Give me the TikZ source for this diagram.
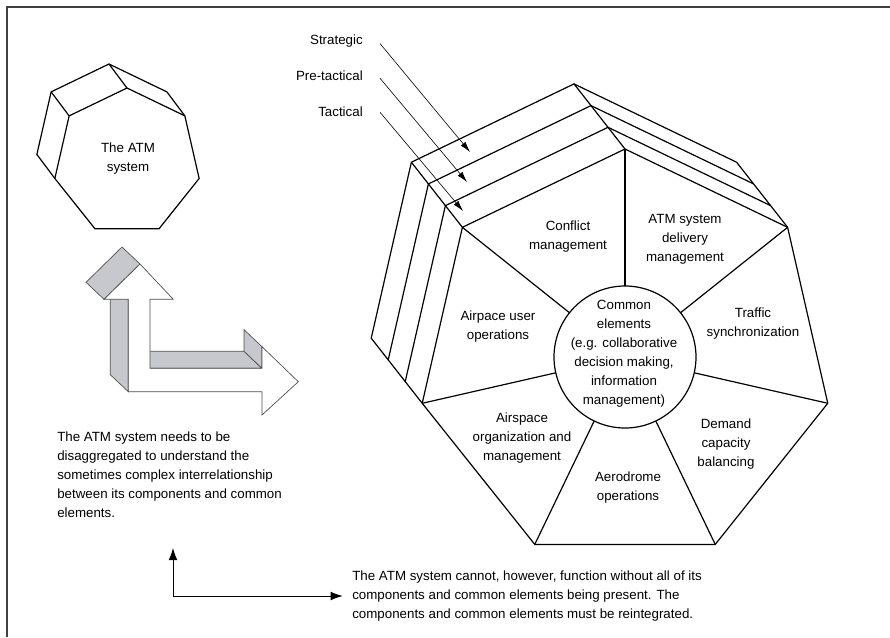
\documentclass[tikz,border=0pt]{standalone}
\usepackage{fontspec}
\setmainfont{Liberation Sans}
\usetikzlibrary{calc,arrows.meta}
\definecolor{sidegray}{RGB}{199,200,205}
\newcommand{\pxunit}{0.75pt}
% corners of a heptagon (top corner up), pushed back by #5 layers of #4
\newcommand{\heptcorners}[5]{
	\foreach \i in {0,...,6}{
		\coordinate (#1-\i) at ($(#2)+(270+\i*360/7:#3)+#5*(#4)$);
	}
}

\begin{document}
\begin{tikzpicture}[x=\pxunit,y=-\pxunit,
	hept/.style={line width=0.9pt,line join=miter},
	txt/.style={font=\fontsize{10}{14.25}\selectfont,align=center,inner sep=0pt},
	note/.style={txt,align=left},
	layerarrow/.style={line width=0.45pt,-{Latex[length=8pt,width=4.5pt]}},
	bothway/.style={line width=0.6pt,{Latex[length=9pt,width=6.5pt]}-{Latex[length=9pt,width=6.5pt]}},
	side/.style={fill=sidegray,draw=black!70,line width=0.5pt,line join=miter},
	face/.style={fill=white,draw=black!70,line width=0.5pt,line join=miter}]
	\useasboundingbox (0,0) rectangle (890,637);
	\draw[black!75,line width=1.1pt] (7,637) -- (7,7) -- (890,7);

	% small heptagon
	\coordinate (core) at (127,162);
	\heptcorners{S0}{core}{74}{-18,-24}{0}
	\heptcorners{S1}{core}{74}{-18,-24}{1}
	\draw[hept] (S1-0) -- (S1-1) -- (S0-1) -- (S0-2) -- (S0-3) -- (S0-4) -- (S0-5) -- (S1-5) -- (S1-6) -- cycle;
	\draw[hept] (S1-6) -- (S0-6) (S1-0) -- (S0-0) (S0-5) -- (S0-6) -- (S0-0) -- (S0-1);
	\node[txt] (atm) at (128,159) {The ATM\\system};

	% disaggregate / reintegrate arrows
	\filldraw[side] (128.3,299.3) -- (128.3,391.7) -- (110.3,374.7) -- (110.3,282.3) -- cycle;
	\filldraw[side] (104,299.3) -- (140,264) -- (122,247) -- (86,282.3) -- cycle;
	\filldraw[side] (150,368.3) -- (262,368.3) -- (244,351.3) -- (132,351.3) -- cycle;
	\filldraw[side] (262,346.7) -- (262,368.3) -- (244,351.3) -- (244,329.7) -- cycle;
	\filldraw[face] (140,264) -- (173.3,299.3) -- (150,299.3) -- (150,368.3) -- (262,368.3)
		-- (262,346.7) -- (298.3,381.7) -- (262,415) -- (262,391.7) -- (128.3,391.7)
		-- (128.3,299.3) -- (104,299.3) -- cycle;

	% big heptagon with its layers
	\coordinate (hub) at (625,357);
	\foreach \k in {0,...,3}{\heptcorners{L\k}{hub}{208}{-17,-21.7}{\k}}
	\draw[hept] (L3-0) -- (L3-1) -- (L0-1) -- (L0-2) -- (L0-3) -- (L0-4) -- (L0-5) -- (L3-5) -- (L3-6) -- cycle;
	\foreach \k in {0,1,2} \draw[hept] (L\k-5) -- (L\k-6) -- (L\k-0) -- (L\k-1);
	\draw[hept] (L3-0) -- (L0-0) (L3-6) -- (L0-6);
	\node[circle,draw,hept,minimum size=106.5pt,inner sep=0pt,outer sep=0pt] (common) at (hub) {};
	\foreach \i in {0,...,6} \draw[hept] (L0-\i) -- (common);

	\node[txt] at (624,354) {Common\\elements\\(e.g. collaborative\\decision making,\\information\\management)};
	\node[txt] (conflict) at (568,237) {Conflict\\management};
	\node[txt] (delivery) at (685,239) {ATM system\\delivery\\management};
	\node[txt] (traffic) at (753,324) {Traffic\\synchronization};
	\node[txt] (users) at (498,327) {Airpace user\\operations};
	\node[txt] (airspace) at (522,438) {Airspace\\organization and\\management};
	\node[txt] (aerodrome) at (628,488) {Aerodrome\\operations};
	\node[txt] (demand) at (726,444) {Demand\\capacity\\balancing};

	% planning layers
	\node[txt,anchor=base east] (strat) at (363,44) {Strategic};
	\node[txt,anchor=base east] (pretac) at (363,80) {Pre-tactical};
	\node[txt,anchor=base east] (tac) at (363,116) {Tactical};
	\coordinate (band3) at (470,152);
	\coordinate (band2) at (467,182);
	\coordinate (band1) at (463,211);
	\draw[layerarrow] ($(strat.east)+(17,3)$) -- (band3);
	\draw[layerarrow] ($(pretac.east)+(17,3)$) -- (band2);
	\draw[layerarrow] ($(tac.east)+(17,1)$) -- (band1);

	% notes
	\node[note,anchor=west] (disagg) at (57,475) {The ATM system needs to be\\disaggregated to understand the\\sometimes complex interrelationship\\between its components and common\\elements.};
	\node[note,anchor=west] (reint) at (352,596) {The ATM system cannot, however, function without all of its\\components and common elements being present. The\\components and common elements must be reintegrated.};
	\coordinate (uptip) at (173,548);
	\draw[bothway] (uptip) |- ([xshift=-7pt]reint.west);
\end{tikzpicture}
\end{document}
